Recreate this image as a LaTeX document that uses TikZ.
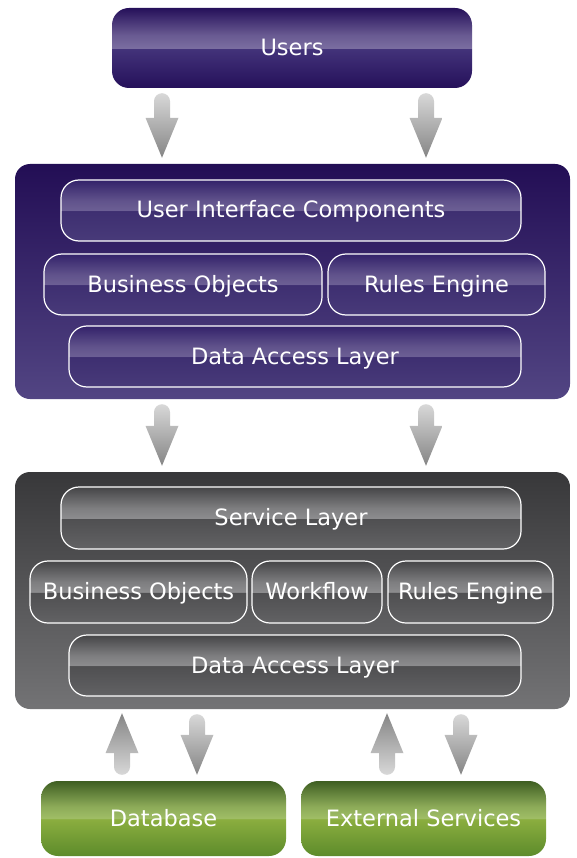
\documentclass[tikz,border=0pt]{standalone}
\usepackage{fontspec}
\setmainfont{DejaVu Sans}
\usetikzlibrary{calc}
\usetikzlibrary{positioning}

\definecolor{arrowlight}{HTML}{D8D8D8}
\definecolor{arrowdark}{HTML}{858585}
\definecolor{frontTop}{HTML}{230E55}
\definecolor{frontBottom}{HTML}{524583}
\definecolor{backTop}{HTML}{38383A}
\definecolor{backBottom}{HTML}{737375}
\definecolor{usersA}{HTML}{25105A}
\definecolor{usersB}{HTML}{43337A}
\definecolor{usersC}{HTML}{7A6DA0}
\definecolor{frontA}{HTML}{483A79}
\definecolor{frontB}{HTML}{3E2F71}
\definecolor{frontC}{HTML}{6C5F94}
\definecolor{frontD}{HTML}{33226A}
\definecolor{backA}{HTML}{626264}
\definecolor{backB}{HTML}{4F4F51}
\definecolor{backC}{HTML}{8C8C8E}
\definecolor{backD}{HTML}{454547}
\definecolor{greenA}{HTML}{5D8B2B}
\definecolor{greenB}{HTML}{8BAE3F}
\definecolor{greenC}{HTML}{A0BE66}
\definecolor{greenD}{HTML}{3E5E22}

\pgfdeclareverticalshading{usersgloss}{100bp}{color(0bp)=(usersA); color(25bp)=(usersA); color(49.6bp)=(usersB); color(50bp)=(usersC); color(58bp)=(usersC!80!usersA); color(75bp)=(usersA); color(100bp)=(usersA)}
\pgfdeclareverticalshading{frontgloss}{100bp}{color(0bp)=(frontA); color(25bp)=(frontA); color(49.6bp)=(frontB); color(50bp)=(frontC); color(58bp)=(frontC!80!frontD); color(75bp)=(frontD); color(100bp)=(frontD)}
\pgfdeclareverticalshading{backgloss}{100bp}{color(0bp)=(backA); color(25bp)=(backA); color(49.6bp)=(backB); color(50bp)=(backC); color(58bp)=(backC!80!backD); color(75bp)=(backD); color(100bp)=(backD)}
\pgfdeclareverticalshading{greengloss}{100bp}{color(0bp)=(greenA); color(25bp)=(greenA); color(49.6bp)=(greenB); color(50bp)=(greenC); color(58bp)=(greenC!80!greenD); color(75bp)=(greenD); color(100bp)=(greenD)}

\tikzset{
    label text/.style={text=white, font=\fontsize{22.5}{26}\selectfont, text height=16pt, text depth=1pt},
    panel/.style={rectangle, rounded corners=15pt, minimum width=555pt, inner sep=0pt},
    box/.style={rectangle, rounded corners=18pt, draw=white, line width=1.2pt, minimum height=61pt, inner sep=0pt, label text, shade},
    frontbox/.style={box, shading=frontgloss},
    backbox/.style={box, shading=backgloss},
    endbox/.style={rectangle, rounded corners=17pt, minimum width=245pt, minimum height=75pt, inner sep=0pt, label text, shade, shading=greengloss}
}

% fat shaded arrows, tail at #1, tip at #2
\newcommand{\fatdown}[2]{%
    \shade[top color=arrowlight, bottom color=arrowdark]
        let \p1=($(#1)+(0,5)$), \p2=($(#2)+(0,-6)$) in
        (\x1-8pt,\y1-8pt) arc[start angle=180, end angle=0, radius=8pt]
        -- (\x1+8pt,\y2+40pt) -- (\x1+16.5pt,\y2+40pt) -- (\x1,\y2)
        -- (\x1-16.5pt,\y2+40pt) -- (\x1-8pt,\y2+40pt) -- cycle;}
\newcommand{\fatup}[2]{%
    \shade[top color=arrowdark, bottom color=arrowlight]
        let \p1=($(#1)+(0,-6)$), \p2=($(#2)+(0,4)$) in
        (\x1+8pt,\y1+8pt) arc[start angle=0, end angle=-180, radius=8pt]
        -- (\x1-8pt,\y2-40pt) -- (\x1-16.5pt,\y2-40pt) -- (\x1,\y2)
        -- (\x1+16.5pt,\y2-40pt) -- (\x1+8pt,\y2-40pt) -- cycle;}

\begin{document}
\begin{tikzpicture}[x=1pt, y=-1pt]
    \useasboundingbox (0,0) rectangle (576,858);

    \node[rectangle, rounded corners=17pt, minimum width=360pt, minimum height=80pt, inner sep=0pt, label text, shade, shading=usersgloss] (users) at (292,48) {Users};

    % client tier
    \node[panel, minimum height=235pt, top color=frontTop, bottom color=frontBottom] (front) at (292.5,281.5) {};
    \node[frontbox, minimum width=460pt] (uic) at (291,210.5) {User Interface Components};
    \node[frontbox, minimum width=278pt] (frontbo) at (183,284.5) {Business Objects};
    \node[frontbox, minimum width=217pt] (frontre) at (436.5,284.5) {Rules Engine};
    \node[frontbox, minimum width=452pt] (frontdal) at (295,356.5) {Data Access Layer};

    % server tier
    \node[panel, minimum height=237pt, top color=backTop, bottom color=backBottom] (back) at (292.5,590.5) {};
    \node[backbox, minimum width=460pt, minimum height=62pt] (svc) at (291,518) {Service Layer};
    \node[backbox, minimum width=217pt, minimum height=62pt] (backbo) at (138.5,592) {Business Objects};
    \node[backbox, minimum width=130pt, minimum height=62pt] (wf) at (317,592) {Workflow};
    \node[backbox, minimum width=165pt, minimum height=62pt] (backre) at (470.5,592) {Rules Engine};
    \node[backbox, minimum width=452pt] (backdal) at (295,665.5) {Data Access Layer};

    \node[endbox] (db) at (163.5,818.5) {Database};
    \node[endbox] (ext) at (423.5,818.5) {External Services};

    \coordinate (colA) at (162,0);
    \coordinate (colB) at (426,0);
    \coordinate (colC) at (122,0);
    \coordinate (colD) at (197,0);
    \coordinate (colE) at (387,0);
    \coordinate (colF) at (461,0);

    \fatdown{users.south -| colA}{front.north -| colA}
    \fatdown{users.south -| colB}{front.north -| colB}
    \fatdown{front.south -| colA}{back.north -| colA}
    \fatdown{front.south -| colB}{back.north -| colB}
    \fatup{db.north -| colC}{back.south -| colC}
    \fatdown{back.south -| colD}{db.north -| colD}
    \fatup{ext.north -| colE}{back.south -| colE}
    \fatdown{back.south -| colF}{ext.north -| colF}
\end{tikzpicture}
\end{document}
